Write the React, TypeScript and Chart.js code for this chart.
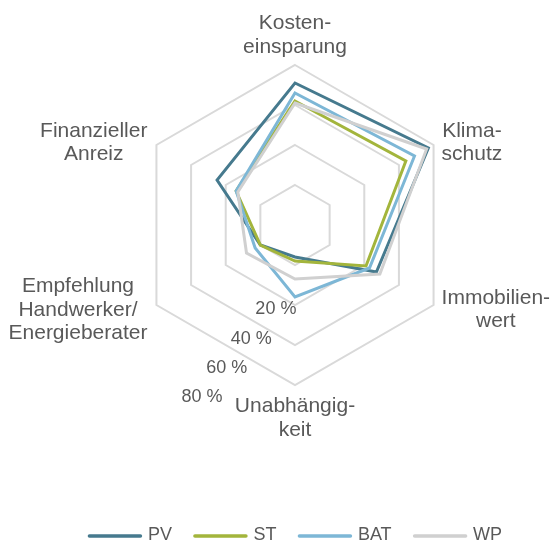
import React, { useEffect, useRef } from "react";
import { Chart, registerables } from "chart.js";

Chart.register(...registerables);

const categories: string[][] = [
  ["Kosten-", "einsparung"],
  ["Klima-", "schutz"],
  ["Immobilien-", "wert"],
  ["Unabhängig-", "keit"],
  ["Empfehlung", "Handwerker/", "Energieberater"],
  ["Finanzieller", "Anreiz"],
];
const seriesNames = ["PV", "ST", "BAT", "WP"];
const pvValues = [71, 77, 47, 16, 20, 45];
const stValues = [62, 64, 41, 18, 20, 34];
const batValues = [66, 69, 43, 36, 23, 34];
const wpValues = [61, 76, 49, 27, 28, 33];
const tickValues = [20, 40, 60, 80];
const tickLabels = ["20 %", "40 %", "60 %", "80 %"];

const seriesColors = ["#467a8e", "#a3b53c", "#7db7d6", "#d0d0d0"];
const TEXT_COLOR = "#595959";
const FONT = "'Liberation Sans', Arial, sans-serif";

const labelPlugin = {
  id: "customLabels",
  afterDraw(chart: any) {
    const ctx: CanvasRenderingContext2D = chart.ctx;
    const scale = chart.scales.r;
    const cx = scale.xCenter;
    const cy = scale.yCenter;
    const R = scale.drawingArea;
    ctx.save();
    ctx.fillStyle = TEXT_COLOR;

    // category labels
    ctx.font = `21px ${FONT}`;
    ctx.textAlign = "center";
    ctx.textBaseline = "alphabetic";
    const lh = 23.8;
    (chart.data.labels as string[][]).forEach((lines, i) => {
      const p = scale.getPointPosition(i, R);
      const maxW = Math.max(...lines.map((l) => ctx.measureText(l).width));
      const n = lines.length;
      const dx = p.x - cx;
      const dy = p.y - cy;
      let x: number;
      let y0: number;
      if (Math.abs(dx) < 1) {
        x = p.x;
        y0 = dy < 0 ? p.y - 12 - (n - 1) * lh : p.y + 27;
      } else {
        x = dx > 0 ? p.x + 8 + maxW / 2 : p.x - 9 - maxW / 2;
        const shift = dy < 0 ? -4 : 3;
        y0 = p.y - ((n - 1) * lh) / 2 + 7.5 + shift;
      }
      lines.forEach((l, k) => ctx.fillText(l, x, y0 + k * lh));
    });

    // tick labels
    ctx.font = `18px ${FONT}`;
    ctx.textAlign = "right";
    ctx.textBaseline = "middle";
    tickValues.forEach((v, k) => {
      const r = scale.getDistanceFromCenterForValue(v);
      ctx.fillText(tickLabels[k], cx + 26 - 0.615 * r, cy + 55 + 0.733 * r);
    });

    // legend
    ctx.font = `18px ${FONT}`;
    ctx.textAlign = "left";
    ctx.textBaseline = "alphabetic";
    const lineLen = 54;
    const textGap = 6;
    const itemGap = 21.5;
    const ds = chart.data.datasets;
    const widths = ds.map((d: any) => lineLen + textGap + ctx.measureText(d.label).width);
    const total = widths.reduce((a: number, b: number) => a + b, 0) + itemGap * (ds.length - 1);
    let x = cx - total / 2;
    const ly = 536;
    ds.forEach((d: any, k: number) => {
      ctx.strokeStyle = d.borderColor;
      ctx.lineWidth = 3.5;
      ctx.lineCap = "round";
      ctx.beginPath();
      ctx.moveTo(x + 1.5, ly);
      ctx.lineTo(x + lineLen - 1.5, ly);
      ctx.stroke();
      ctx.fillStyle = TEXT_COLOR;
      ctx.fillText(d.label, x + lineLen + textGap, 540);
      x += widths[k] + itemGap;
    });
    ctx.restore();
  },
};

export default function App() {
  const canvasRef = useRef<HTMLCanvasElement | null>(null);

  useEffect(() => {
    if (!canvasRef.current) return;
    const values = [pvValues, stValues, batValues, wpValues];
    const chart = new Chart(canvasRef.current, {
      type: "radar",
      data: {
        labels: categories,
        datasets: seriesNames.map((name, i) => ({
          label: name,
          data: values[i],
          borderColor: seriesColors[i],
          backgroundColor: "transparent",
          borderWidth: 3,
          pointRadius: 0,
          pointHoverRadius: 0,
          fill: false,
          borderJoinStyle: "miter" as const,
          order: seriesNames.length - i,
        })),
      },
      options: {
        animation: false,
        responsive: true,
        maintainAspectRatio: false,
        layout: { padding: { left: 135, right: 95, top: 65, bottom: 157 } },
        plugins: {
          legend: { display: false },
          tooltip: { enabled: false },
        },
        scales: {
          r: {
            min: 0,
            max: 80,
            ticks: { stepSize: 20, display: false },
            grid: { color: "#d9d9d9", lineWidth: 2 },
            angleLines: { display: false },
            pointLabels: { display: false },
          },
        },
      },
      plugins: [labelPlugin],
    });
    return () => chart.destroy();
  }, []);

  return (
    <div style={{ position: "fixed", left: 0, top: 0, width: 550, height: 542, background: "#fff" }}>
      <canvas ref={canvasRef} style={{ display: "block" }} />
    </div>
  );
}
